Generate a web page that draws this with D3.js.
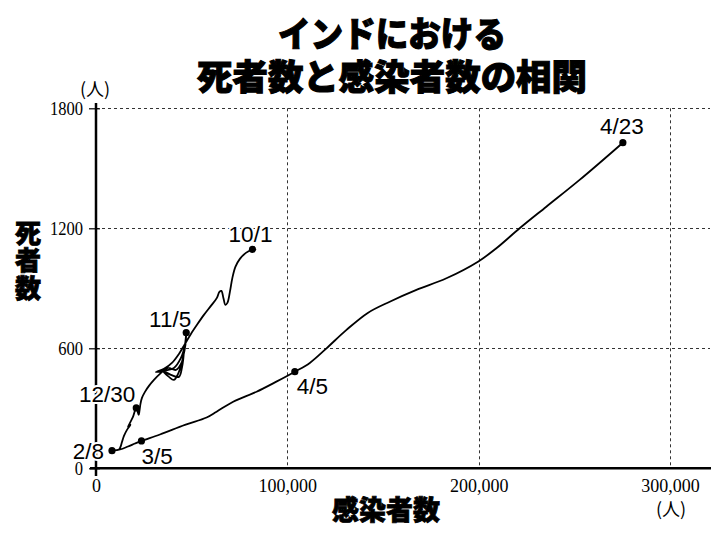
<!DOCTYPE html>
<html><head><meta charset="utf-8">
<script src="https://cdn.jsdelivr.net/npm/d3@7"></script>
<style>
html,body{margin:0;padding:0;background:#fff;}
svg{display:block;}
</style></head>
<body>
<svg id="c" width="714" height="535"></svg>
<script>
// ---- data (path is in time order: 10/1 -> 4/23) ----
const titleLines = ["インドにおける", "死者数と感染者数の相関"];
const xTitle = "感染者数";
const yTitle = "死者数";
const unit = "(人)";
const xTicks = [0, 100000, 200000, 300000];
const yTicks = [0, 600, 1200, 1800];
const pathCases = [81800,78330,75200,72850,71280,69980,68670,67630,66580,65540,64490,63190,60050,56400,52740,49610,46480,43340,39690,35510,31330,36030,40730,44390,46480,47155,46740,45430,43340,40730,38120,34990,39170,43340,44910,45950,44910,41780,37600,33420,30290,27680,25590,24020,23240,22720,22300,21045,19320,17760,16710,18020,16190,14620,13580,12790,12010,8355,12530,16710,20370,23760,33420,46480,57810,63030,71700,83920,94000,103920,111750,120470,130920,142040,153530,167470,183140,199640,209250,221410,235360,252750,275360];
const pathDeaths = [1095,1077,1047,1007,952,882,827,817,852,887,882,852,812,767,717,672,622,572,527,497,482,489,502,552,617,678,617,552,482,442,457,487,467,457,502,582,532,492,502,472,442,412,382,352,322,287,267,302,257,227,207,217,192,162,132,107,94,88,94,109,124,137,169,217,254,283,333,383,432,483,527,600,692,777,833,892,950,1033,1100,1200,1308,1442,1628];
const labelDates = ["10/1","11/5","12/30","2/8","3/5","4/5","4/23"];
const labelCases = [81800,47155,21045,8355,23760,103920,275360];
const labelDeaths = [1095,678,302,88,137,483,1628];

// ---- drawing ----
const svg = d3.select("#c");
const x = d3.scaleLinear().domain([0,300000]).range([96,670]);
const y = d3.scaleLinear().domain([0,1800]).range([468.3,108.3]);
const serif = "'Liberation Serif','Times New Roman',serif";
const sans = "'Liberation Sans',Arial,Helvetica,sans-serif";
const cjk = "'Noto Sans CJK JP','Noto Sans CJK SC',sans-serif";

// title
const tl = [{t:titleLines[0], y:31, w:228},{t:titleLines[1], y:74, w:390}];
svg.selectAll("text.title").data(tl).enter().append("text")
  .attr("class","title")
  .attr("x",392).attr("y",d=>d.y)
  .attr("text-anchor","middle").attr("dominant-baseline","central")
  .attr("font-family",cjk).attr("font-weight",900).attr("font-size",35)
  .attr("stroke","#000").attr("stroke-width",1.1)
  .attr("textLength",d=>d.w).attr("lengthAdjust","spacingAndGlyphs")
  .text(d=>d.t);

// grid
const grid = svg.append("g").attr("stroke","#333").attr("stroke-width",1).attr("stroke-dasharray","3,3");
grid.selectAll("line.v").data(xTicks.filter(d=>d>0)).enter().append("line")
  .attr("x1",d=>Math.round(x(d))+0.5).attr("x2",d=>Math.round(x(d))+0.5)
  .attr("y1",y(1800)).attr("y2",y(0));
grid.selectAll("line.h").data(yTicks.filter(d=>d>0)).enter().append("line")
  .attr("y1",d=>Math.round(y(d))+0.5).attr("y2",d=>Math.round(y(d))+0.5)
  .attr("x1",x(0)).attr("x2",710);

// axes
const yAxis = d3.axisLeft(y).tickValues(yTicks).tickFormat(d3.format("d")).tickSize(7).tickPadding(5);
const gy = svg.append("g").attr("transform",`translate(${x(0)},0)`).call(yAxis);
gy.select(".domain").remove();
gy.selectAll(".tick line").attr("stroke","#000").attr("stroke-width",1.2).attr("x2",-7).attr("x1",4);
gy.selectAll(".tick text").attr("font-family",serif).attr("font-size",18).attr("fill","#000")
  .attr("transform","scale(0.92,1)").attr("x",function(){return -13/0.92;});
svg.append("line").attr("x1",x(0)).attr("x2",x(0)).attr("y1",103).attr("y2",476)
  .attr("stroke","#000").attr("stroke-width",2.5);

const xAxis = d3.axisBottom(x).tickValues(xTicks).tickFormat(d3.format(",")).tickSize(0).tickPadding(11);
const gx = svg.append("g").attr("transform",`translate(0,${y(0)})`).call(xAxis);
gx.select(".domain").remove();
gx.selectAll(".tick text").attr("font-family",serif).attr("font-size",18).attr("fill","#000");
svg.append("line").attr("x1",90).attr("x2",711).attr("y1",y(0)).attr("y2",y(0))
  .attr("stroke","#000").attr("stroke-width",2.6);

// unit labels
svg.append("text").attr("x",95).attr("y",96).attr("text-anchor","middle")
  .attr("font-family",cjk).attr("font-size",18).text(unit);
svg.append("text").attr("x",671).attr("y",516).attr("text-anchor","middle")
  .attr("font-family",cjk).attr("font-size",18).text(unit);

// axis titles
svg.append("text").attr("x",386).attr("y",508).attr("text-anchor","middle").attr("dominant-baseline","central")
  .attr("font-family",cjk).attr("font-weight",900).attr("font-size",27)
  .attr("stroke","#000").attr("stroke-width",0.8).text(xTitle);
svg.selectAll("text.yt").data(yTitle.split("")).enter().append("text")
  .attr("x",28).attr("y",(d,i)=>231+i*27.5).attr("text-anchor","middle").attr("dominant-baseline","central")
  .attr("font-family",cjk).attr("font-weight",900).attr("font-size",26)
  .attr("stroke","#000").attr("stroke-width",0.8).text(d=>d);

// path
const pts = pathCases.map((c,i)=>[x(c), y(pathDeaths[i])]);
svg.append("path").attr("d", d3.line().curve(d3.curveCatmullRom.alpha(0.5))(pts))
  .attr("fill","none").attr("stroke","#000").attr("stroke-width",1.8).attr("stroke-linejoin","round");

// key points
const offs = {"10/1":[-2,-7,"middle"],"11/5":[5,-6,"end"],"12/30":[-1,-6,"end"],"2/8":[-8,8,"end"],
              "3/5":[0,23,"start"],"4/5":[2,22,"start"],"4/23":[-1,-9,"middle"]};
labelDates.forEach((d,i)=>{
  const cx = x(labelCases[i]), cy = y(labelDeaths[i]);
  const o = offs[d];
  svg.append("text").attr("x",cx+o[0]).attr("y",cy+o[1]).attr("text-anchor",o[2])
    .attr("font-family",sans).attr("font-size",22.5).attr("fill","#000")
    .attr("stroke","#fff").attr("stroke-width",4).attr("paint-order","stroke").attr("stroke-linejoin","round")
    .text(d);
  svg.append("circle").attr("cx",cx).attr("cy",cy).attr("r",3.6).attr("fill","#000");
});
</script>
</body></html>
